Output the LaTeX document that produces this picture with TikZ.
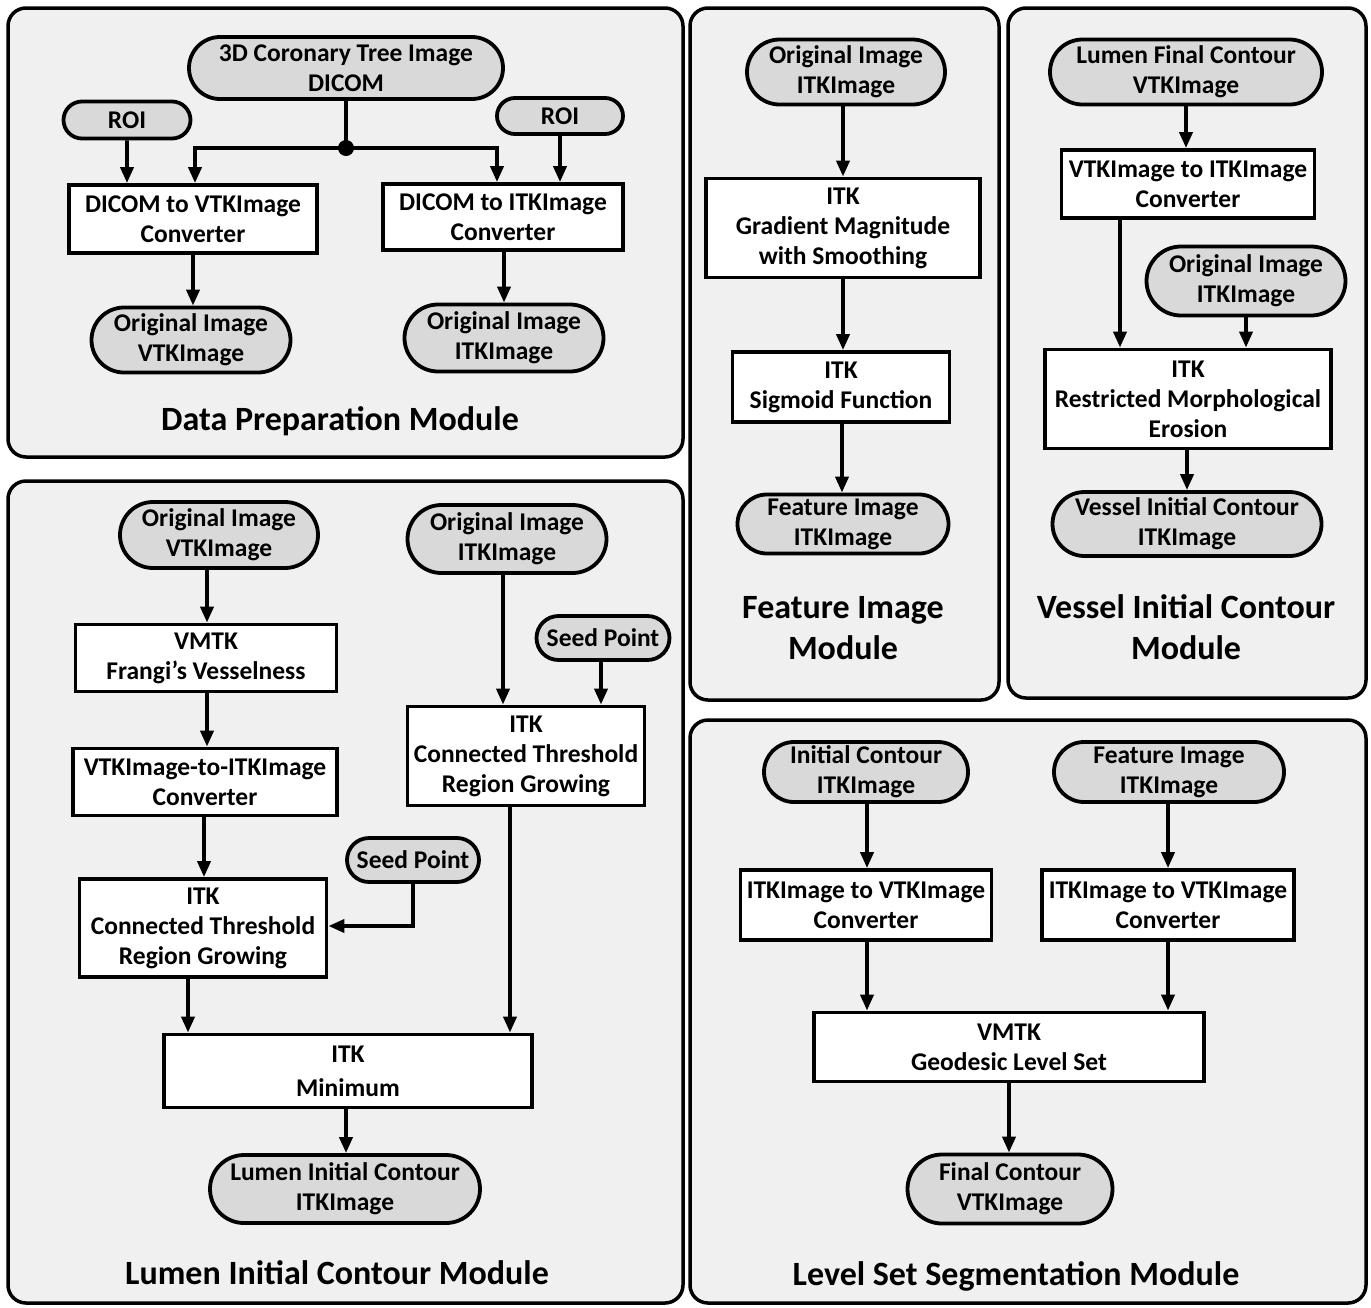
\documentclass[tikz,border=0pt]{standalone}
\usepackage{fontspec}
\setmainfont{Carlito}
\usetikzlibrary{shapes.misc,arrows.meta,calc}
\definecolor{panelgray}{HTML}{F0F0F0}
\definecolor{termgray}{HTML}{D9D9D9}
\newcommand\vArrow[3]{\coordinate (vx) at (#3,0); \draw[arr] (#1.south -| vx) -- (#2.north -| vx);}
\begin{document}
\begin{tikzpicture}[x=1pt,y=-1pt,
  panel/.style={draw=black,line width=3.5pt,fill=panelgray,rounded corners=18pt},
  txt/.style={font=\bfseries\fontsize{25.5}{30}\selectfont,align=center,inner sep=0pt},
  term/.style={txt,rounded rectangle,draw,line width=3.8pt,fill=termgray},
  box/.style={txt,rectangle,draw,line width=3.8pt,fill=white},
  title/.style={font=\bfseries\fontsize{34}{41}\selectfont,align=center,inner sep=0pt},
  arr/.style={line width=3.8pt,-{Triangle[length=16pt,width=13pt]}},
  ln/.style={line width=3.8pt}]
\useasboundingbox (0,0) rectangle (1371,1307);
% panels
\draw[panel] (8,8) rectangle (683,457);
\draw[panel] (8,481) rectangle (683,1303);
\draw[panel] (690,8) rectangle (999,700);
\draw[panel] (1008,8) rectangle (1366,698);
\draw[panel] (690,720) rectangle (1366,1303);

% ---------- Data Preparation Module
\node[term,minimum width=314,minimum height=62] (dicom) at (346,68) {3D Coronary Tree Image\\DICOM};
\node[term,minimum width=127,minimum height=37] (roiL) at (127,120) {ROI};
\node[term,minimum width=126,minimum height=36] (roiR) at (560,116) {ROI};
\node[box,minimum width=248,minimum height=68] (dvtk) at (193,219) {DICOM to VTKImage\\Converter};
\node[box,minimum width=240,minimum height=66] (ditk) at (503,217) {DICOM to ITKImage\\Converter};
\node[term,minimum width=199,minimum height=65] (ovtk1) at (191,340) {Original Image\\VTKImage};
\node[term,minimum width=199,minimum height=67] (oitk1) at (504,338) {Original Image\\ITKImage};
\node[title] (t1) at (340,421) {Data Preparation Module};
\coordinate (j) at (346,148);
\draw[ln] (dicom.south) -- (j);
\fill (j) circle (8pt);
\coordinate (jl) at (195,148);
\coordinate (jr) at (497,148);
\draw[arr] (j) -- (jl) -- (jl |- dvtk.north);
\draw[arr] (j) -- (jr) -- (jr |- ditk.north);
\draw[arr] (roiL) -- (roiL |- dvtk.north);
\draw[arr] (roiR) -- (roiR |- ditk.north);
\vArrow{dvtk}{ovtk1}{193}
\vArrow{ditk}{oitk1}{504}

% ---------- Lumen Initial Contour Module
\node[term,minimum width=198,minimum height=66] (ovtk2) at (219,535) {Original Image\\VTKImage};
\node[term,minimum width=199,minimum height=68] (oitk2) at (507,539) {Original Image\\ITKImage};
\node[box,minimum width=261,minimum height=67] (frangi) at (206,658) {VMTK\\Frangi’s Vesselness};
\node[term,minimum width=133,minimum height=44] (seedU) at (603,638) {Seed Point};
\node[box,minimum width=237,minimum height=99] (ctR) at (526,756) {ITK\\Connected Threshold\\Region Growing};
\node[box,minimum width=264,minimum height=67] (v2i) at (205,782) {VTKImage-to-ITKImage\\Converter};
\node[term,minimum width=132,minimum height=44] (seedL) at (413,860) {Seed Point};
\node[box,minimum width=247,minimum height=98] (ctL) at (203,928) {ITK\\Connected Threshold\\Region Growing};
\node[box,minimum width=368,minimum height=73,font=\bfseries\fontsize{25.5}{34}\selectfont] (mini) at (348,1071) {ITK\\Minimum};
\node[term,minimum width=270,minimum height=68] (lic) at (345,1189) {Lumen Initial Contour\\ITKImage};
\node[title] (t2) at (337,1273) {Lumen Initial Contour Module};
\vArrow{ovtk2}{frangi}{207}
\vArrow{frangi}{v2i}{207}
\vArrow{v2i}{ctL}{204}
\vArrow{oitk2}{ctR}{503}
\vArrow{seedU}{ctR}{601}
\vArrow{ctL}{mini}{188}
\vArrow{ctR}{mini}{510}
\vArrow{mini}{lic}{346}
\coordinate (sb) at (413,926);
\draw[arr] (seedL.south) -- (sb) -- (sb -| ctL.east);

% ---------- Feature Image Module
\node[term,minimum width=198,minimum height=65] (oitk3) at (846,72) {Original Image\\ITKImage};
\node[box,minimum width=274,minimum height=99] (grad) at (843,228) {ITK\\Gradient Magnitude\\with Smoothing};
\node[box,minimum width=217,minimum height=70] (sigm) at (841,387) {ITK\\Sigmoid Function};
\node[term,minimum width=211,minimum height=59] (feat) at (843,524) {Feature Image\\ITKImage};
\node[title] (t3) at (843,628) {Feature Image\\Module};
\vArrow{oitk3}{grad}{843}
\vArrow{grad}{sigm}{843}
\vArrow{sigm}{feat}{842}

% ---------- Vessel Initial Contour Module
\node[term,minimum width=272,minimum height=65] (lfc) at (1186,72) {Lumen Final Contour\\VTKImage};
\node[box,minimum width=253,minimum height=68] (v2i4) at (1188,184) {VTKImage to ITKImage\\Converter};
\node[term,minimum width=199,minimum height=69] (oitk4) at (1246,281) {Original Image\\ITKImage};
\node[box,minimum width=286,minimum height=99] (eros) at (1188,399) {ITK\\Restricted Morphological\\Erosion};
\node[term,minimum width=269,minimum height=64] (vic) at (1187,524) {Vessel Initial Contour\\ITKImage};
\node[title] (t4) at (1186,627) {Vessel Initial Contour\\Module};
\vArrow{lfc}{v2i4}{1186}
\vArrow{v2i4}{eros}{1120}
\vArrow{oitk4}{eros}{1246}
\vArrow{eros}{vic}{1187}

% ---------- Level Set Segmentation Module
\node[term,minimum width=204,minimum height=60] (icon) at (866,772) {Initial Contour\\ITKImage};
\node[term,minimum width=230,minimum height=60] (feat5) at (1169,772) {Feature Image\\ITKImage};
\node[box,minimum width=251,minimum height=70] (i2vL) at (866,905) {ITKImage to VTKImage\\Converter};
\node[box,minimum width=252,minimum height=70] (i2vR) at (1168,905) {ITKImage to VTKImage\\Converter};
\node[box,minimum width=390,minimum height=69] (geo) at (1009,1047) {VMTK\\Geodesic Level Set};
\node[term,minimum width=205,minimum height=69] (fc) at (1010,1189) {Final Contour\\VTKImage};
\node[title] (t5) at (1016,1276) {Level Set Segmentation Module};
\vArrow{icon}{i2vL}{867}
\vArrow{feat5}{i2vR}{1168}
\vArrow{i2vL}{geo}{867}
\vArrow{i2vR}{geo}{1168}
\vArrow{geo}{fc}{1009}
\end{tikzpicture}
\end{document}
